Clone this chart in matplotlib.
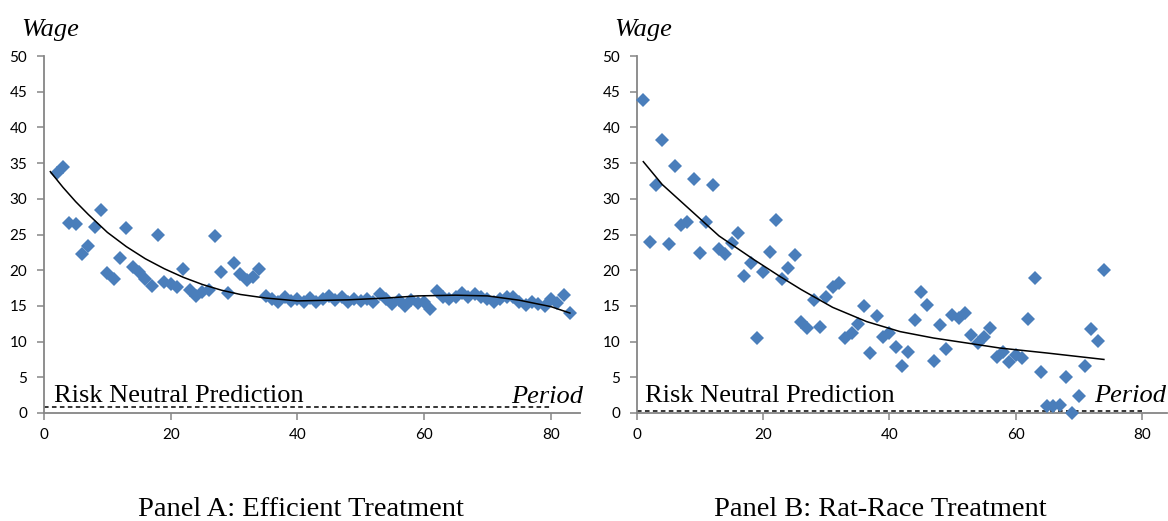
import matplotlib.pyplot as plt
import numpy as np

# Panel A: efficient treatment (average wage per period)
periods_a = np.arange(2, 84)
wage_a = [
    33.6, 34.4, 26.6, 26.5, 22.2, 23.4, 26.1, 28.4, 19.6, 18.8,
    21.7, 25.9, 20.5, 19.7, 18.7, 17.8, 25.0, 18.4, 18.1, 17.7,
    20.2, 17.2, 16.4, 17.0, 17.2, 24.8, 19.7, 16.8, 21.0, 19.4,
    18.6, 19.1, 20.1,
    16.4, 16.0, 15.6, 16.3, 15.7, 16.0, 15.6, 16.1, 15.5, 15.9,
    16.4, 15.8, 16.3, 15.6, 15.9, 15.7, 15.9, 15.5, 16.6, 15.9,
    15.3, 15.8, 15.0, 15.8, 15.4, 15.6, 14.6, 17.1, 16.3, 16.0,
    16.2, 16.8, 16.2, 16.7, 16.3, 15.9, 15.6, 15.9, 16.3, 16.2,
    15.5, 15.1, 15.5, 15.2, 15.0, 15.9, 15.4, 16.5, 14.0,
]
# trend line
trend_a_x = [1, 3, 5, 7, 10, 13, 16, 19, 22, 25, 28, 31, 35, 40, 48, 54, 59, 65, 70, 75, 80, 83]
trend_a_y = [33.8, 31.6, 29.6, 27.8, 25.3, 23.3, 21.6, 20.2, 19.0, 18.0, 17.2, 16.6, 16.1, 15.7,
             15.85, 16.1, 16.4, 16.5, 16.4, 15.8, 14.9, 14.0]

# Panel B: rat-race treatment
periods_b = np.arange(1, 75)
wage_b = [
    43.9, 23.9, 31.9, 38.2, 23.7, 34.6, 26.4, 26.8, 32.8, 22.4,
    26.7, 31.9, 23.0, 22.2, 23.8, 25.2, 19.2, 21.0, 10.5, 19.7,
    22.6, 27.1, 18.8, 20.3, 22.1, 12.8, 11.9, 15.8, 12.0, 16.3,
    17.7, 18.2, 10.5, 11.2, 12.5, 15.0, 8.4, 13.6, 10.7, 11.2,
    9.2, 6.6, 8.6, 13.0, 17.0, 15.1, 7.3, 12.3, 8.9, 13.7,
    13.3, 14.0, 10.9, 9.8, 10.6, 11.9, 7.9, 8.6, 7.2, 8.1,
    7.7, 13.1, 18.9, 5.8, 1.0, 1.0, 1.1, 5.1, 0.0, 2.4,
    6.6, 11.7, 10.1, 20.0,
]
trend_b_x = [1, 4, 8, 13, 18.5, 22.7, 26, 31, 36.4, 41.7, 47, 52.3, 57.5, 65, 70, 74]
trend_b_y = [35.2, 32.0, 28.8, 24.8, 21.5, 19.1, 17.3, 14.8, 12.8, 11.4, 10.5, 9.8, 9.1, 8.4, 7.9, 7.5]

# risk neutral prediction (dashed line)
rn_a = 0.8
rn_b = 0.35
rn_end = 80

ticks_x = [0, 20, 40, 60, 80]
ticks_y = [0, 5, 10, 15, 20, 25, 30, 35, 40, 45, 50]

W, H = 1168, 521
blue = "#4a7ebb"
grey = "#868686"
serif = "Liberation Serif"
tickfont = "Lato"

fig = plt.figure(figsize=(W / 100, H / 100), dpi=100)


def px_axes(left, right, top=56, bottom=413):
    return fig.add_axes([left / W, 1 - bottom / H, (right - left) / W, (bottom - top) / H])


def style(ax, xmax):
    ax.set_xlim(0, xmax)
    ax.set_ylim(0, 50)
    ax.set_xticks(ticks_x)
    ax.set_yticks(ticks_y)
    for s in ["top", "right"]:
        ax.spines[s].set_visible(False)
    for s in ["left", "bottom"]:
        ax.spines[s].set_color(grey)
        ax.spines[s].set_linewidth(1.3)
    ax.tick_params(axis="both", color=grey, width=1.1, length=5, labelsize=11)
    ax.tick_params(axis="y", pad=7)
    ax.tick_params(axis="x", pad=6)
    for lab in ax.get_xticklabels() + ax.get_yticklabels():
        lab.set_family(tickfont)


def panel(ax, x, y, tx, ty, rn):
    ax.plot(x, y, "D", color=blue, markersize=7, markeredgewidth=0, clip_on=False, zorder=3)
    ax.plot(tx, ty, color="black", lw=1.1, zorder=4, solid_joinstyle="round")
    ax.plot([0, rn_end], [rn, rn], color="black", lw=1.1, linestyle=(0, (3, 2.2)), zorder=2)


ax1 = px_axes(44, 580)
style(ax1, 84.6)
panel(ax1, periods_a, wage_a, trend_a_x, trend_a_y, rn_a)

ax2 = px_axes(637, 1167)
style(ax2, 84.0)
panel(ax2, periods_b, wage_b, trend_b_x, trend_b_y, rn_b)


# texts placed in figure pixels
def ftext(x, y, s, **kw):
    fig.text(x / W, 1 - y / H, s, family=serif, **kw)


ftext(21, 36, "Wage", fontsize=19, style="italic", va="baseline")
ftext(614, 36, "Wage", fontsize=19, style="italic", va="baseline")
ftext(54, 402, "Risk Neutral Prediction", fontsize=19, va="baseline")
ftext(645, 402, "Risk Neutral Prediction", fontsize=19, va="baseline")
ftext(583, 403, "Period", fontsize=19, style="italic", va="baseline", ha="right")
ftext(1166, 402, "Period", fontsize=19, style="italic", va="baseline", ha="right")
ftext(301, 516, "Panel A: Efficient Treatment", fontsize=20.5, va="baseline", ha="center")
ftext(880, 516, "Panel B: Rat-Race Treatment", fontsize=20.5, va="baseline", ha="center")

fig.savefig("out.png", dpi=100)
